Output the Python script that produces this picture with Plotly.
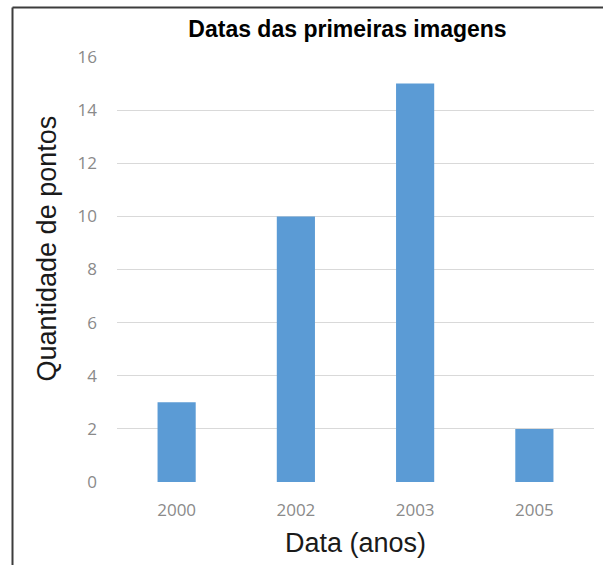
import plotly.graph_objects as go

anos = ["2000", "2002", "2003", "2005"]
quantidade = [3, 10, 15, 2]
y_ticks = [0, 2, 4, 6, 8, 10, 12, 14, 16]

W, H = 603, 565
ml, mr, mt, mb = 117, 9, 57, 83
pw, ph = W - ml - mr, H - mt - mb

def px(x):
    return (x - ml) / pw

def py(y):
    return 1 - (y - mt) / ph

tick_font = dict(family="Open Sans, DejaVu Sans, Arial", size=17, color="#8a8a8a")
axis_title_font = dict(family="Liberation Sans, Arial", size=27, color="#1a1a1a")

fig = go.Figure(go.Bar(
    x=anos, y=quantidade,
    marker=dict(color="#5B9BD5", line=dict(width=0)),
    width=0.32,
))

fig.update_layout(
    width=W, height=H,
    margin=dict(l=ml, r=mr, t=mt, b=mb, pad=0),
    paper_bgcolor="white", plot_bgcolor="white",
    showlegend=False,
    title=dict(
        text="<b>Datas das primeiras imagens</b>",
        x=347.5 / W, xanchor="center", y=1 - 29 / H, yanchor="middle",
        font=dict(family="Liberation Sans, Arial", size=23, color="#000000"),
    ),
    xaxis=dict(
        type="category",
        showgrid=False, zeroline=False, showline=False,
        ticks="", tickfont=tick_font, ticklabelstandoff=16,
    ),
    yaxis=dict(
        range=[0, 16], tickvals=y_ticks,
        showgrid=True, gridcolor="#D9D9D9", gridwidth=1,
        zeroline=False, showline=False, ticks="",
        tickfont=tick_font, ticklabelstandoff=19,
    ),
    annotations=[
        dict(text="Quantidade de pontos", textangle=-90, showarrow=False,
             xref="paper", yref="paper", x=px(46), y=py(248.5),
             xanchor="center", yanchor="middle", font=axis_title_font),
        dict(text="Data (anos)", showarrow=False,
             xref="paper", yref="paper", x=px(355), y=py(543),
             xanchor="center", yanchor="middle", font=axis_title_font),
    ],
    shapes=[
        dict(type="line", xref="paper", yref="paper", x0=px(12.5), x1=px(603), y0=py(7.5), y1=py(7.5),
             line=dict(color="#3c3c3c", width=2)),
        dict(type="line", xref="paper", yref="paper", x0=px(12.5), x1=px(12.5), y0=py(7.5), y1=py(565),
             line=dict(color="#3c3c3c", width=2)),
    ],
)

fig.write_html("out.html", config={"displayModeBar": False},
               post_script="document.body.style.margin='0px';")
